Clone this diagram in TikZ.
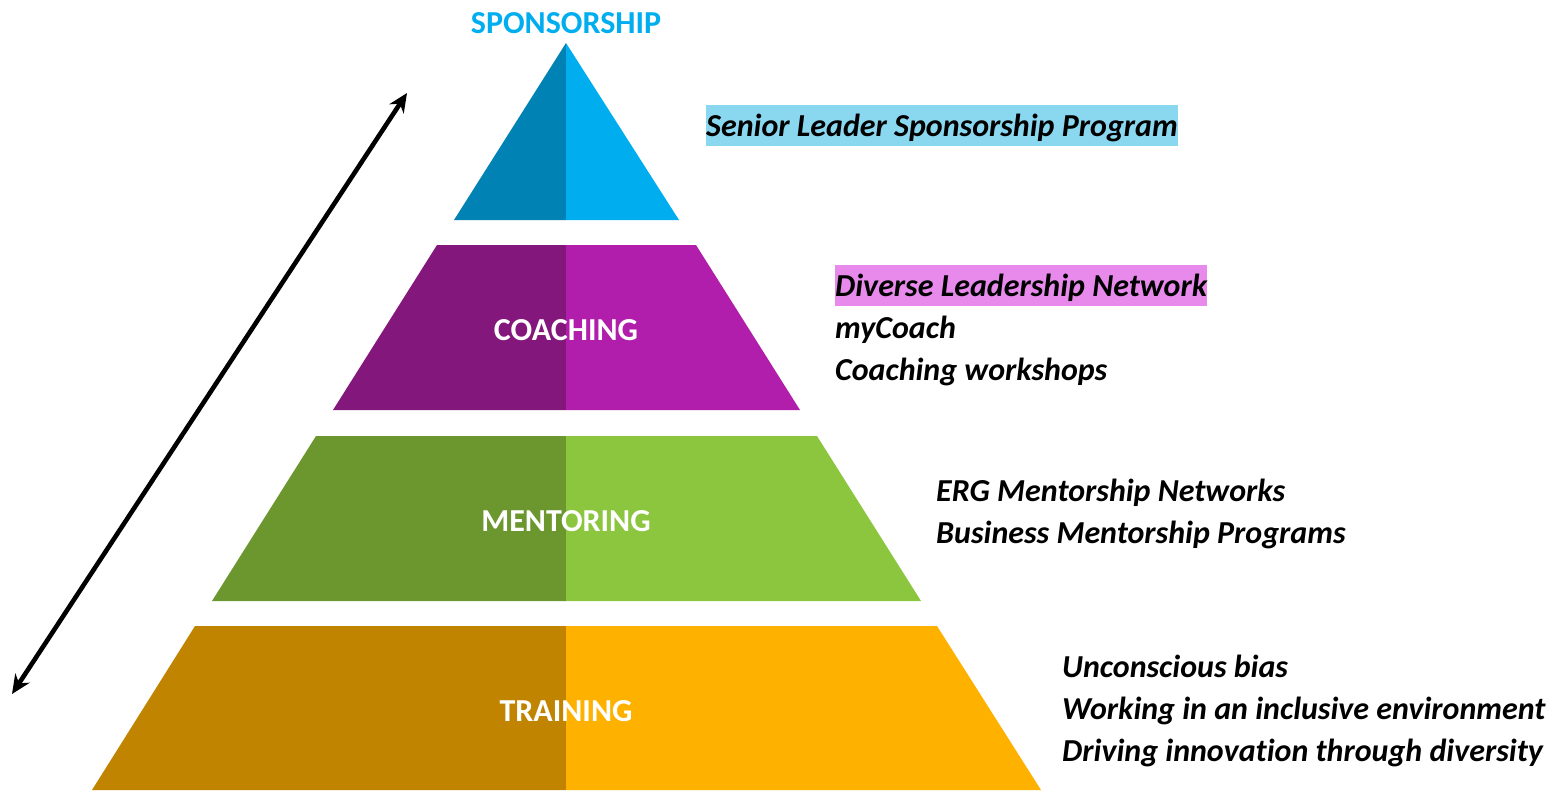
\documentclass[tikz,border=0pt]{standalone}
\usepackage{fontspec}
\setmainfont{Carlito}[Ligatures={NoCommon}]
\usetikzlibrary{arrows.meta}

\definecolor{spDark}{HTML}{0083B4}
\definecolor{spLight}{HTML}{00AEEF}
\definecolor{coDark}{HTML}{84177C}
\definecolor{coLight}{HTML}{B01EAB}
\definecolor{meDark}{HTML}{6B972E}
\definecolor{meLight}{HTML}{8CC63F}
\definecolor{trDark}{HTML}{C08400}
\definecolor{trLight}{HTML}{FFB100}
\definecolor{hlBlue}{HTML}{8AD7F0}
\definecolor{hlPink}{HTML}{E78AEC}

\tikzset{
  tierlabel/.style={font=\fontsize{32}{32}\selectfont\bfseries, text=white, inner sep=0pt},
  item/.style={anchor=west, font=\fontsize{32}{32}\selectfont\bfseries\itshape,
    inner xsep=0pt, inner ysep=5pt, text height=27pt, text depth=4pt},
  twoway/.style={line width=4.6pt, {Stealth[length=19pt,width=17pt]}-{Stealth[length=19pt,width=17pt]}}
}

\begin{document}
\begin{tikzpicture}[x=1pt, y=-1pt]
\useasboundingbox (0,0) rectangle (1560,790);

% pyramid tiers: left half darker, right half lighter
% top triangle
\fill[spDark]  (566,43) -- (454,220) -- (566,220) -- cycle;
\fill[spLight] (566,43) -- (679,220) -- (566,220) -- cycle;
% coaching
\fill[coDark]  (437,245) -- (566,245) -- (566,410) -- (333,410) -- cycle;
\fill[coLight] (566,245) -- (696,245) -- (800,410) -- (566,410) -- cycle;
% mentoring
\fill[meDark]  (316,436) -- (566,436) -- (566,601) -- (212,601) -- cycle;
\fill[meLight] (566,436) -- (817,436) -- (921,601) -- (566,601) -- cycle;
% training
\fill[trDark]  (195,626) -- (566,626) -- (566,790) -- (92,790) -- cycle;
\fill[trLight] (566,626) -- (937,626) -- (1041,790) -- (566,790) -- cycle;

% tier labels
\node[tierlabel, text=spLight] (sponsor) at (566,23) {SPONSORSHIP};
\node[tierlabel] (coach) at (566,330) {COACHING};
\node[tierlabel] (mentor) at (566,521) {MENTORING};
\node[tierlabel] (train) at (566,711) {TRAINING};

% programmes per tier
\node[item, fill=hlBlue] (senior) at (706,125) {Senior Leader Sponsorship Program};

\node[item, fill=hlPink] (dln) at (835,285) {Diverse Leadership Network};
\node[item] (mycoach) at (835,327) {myCoach};
\node[item] (workshops) at (835,369) {Coaching workshops};

\node[item] (erg) at (936,490) {ERG Mentorship Networks};
\node[item] (business) at (936,532) {Business Mentorship Programs};

\node[item] (bias) at (1062,666) {Unconscious bias};
\node[item] (inclusive) at (1062,708) {Working in an inclusive environment};
\node[item] (innovation) at (1062,750) {Driving innovation through diversity};

% two-way arrow along the pyramid
\coordinate (arrLow) at (12,694);
\coordinate (arrHigh) at (407,93);
\draw[twoway] (arrLow) -- (arrHigh);
\end{tikzpicture}
\end{document}
